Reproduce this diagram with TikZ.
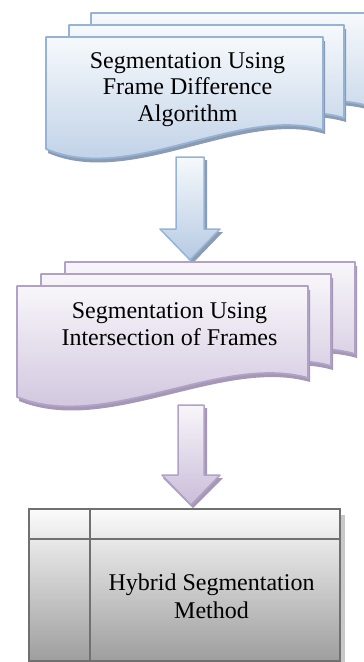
\documentclass[tikz,border=0pt]{standalone}
\usepackage{fontspec}
\setmainfont{Liberation Serif}
\definecolor{bluebd}{HTML}{95B3D7}
\definecolor{bluetop}{HTML}{F6F9FC}
\definecolor{bluebot}{HTML}{B6CAE3}
\definecolor{blueshd}{HTML}{8D9BB0}
\definecolor{purbd}{HTML}{B2A1C7}
\definecolor{purtop}{HTML}{F8F6FA}
\definecolor{purbot}{HTML}{CABDD9}
\definecolor{purshd}{HTML}{A498B4}
\definecolor{graybd}{HTML}{707070}
\definecolor{graytop}{HTML}{FBFBFB}
\definecolor{graybot}{HTML}{9E9E9E}
\definecolor{grayshd}{HTML}{C8C8C8}
\newcommand\mydocshape[5]{%
  \path[#1] (#2,#3) -- (#2+#4,#3) -- (#2+#4,#3+#5-19)
    .. controls (#2+0.70*#4,#3+#5-44) and (#2+0.303*#4,#3+#5+36) .. (#2,#3+#5) -- cycle;}
\tikzset{
  bluedoc/.style={draw=bluebd, line width=1.8pt, line join=round, top color=bluetop, bottom color=bluebot},
  bluesh/.style={fill=blueshd},
  purdoc/.style={draw=purbd, line width=1.8pt, line join=round, top color=purtop, bottom color=purbot},
  pursh/.style={fill=purshd},
  lbl/.style={font=\fontsize{24}{27}\selectfont, inner sep=0pt, anchor=base, text=black},
}
\begin{document}
\begin{tikzpicture}[x=1pt,y=-1pt]
\useasboundingbox (0,0) rectangle (364,662);
\clip (0,0) rectangle (364,662);
\fill[white] (0,0) rectangle (364,662);
% ---- blue multi-document
\mydocshape{bluesh}{93}{17}{277}{112}
\mydocshape{bluedoc}{91}{13}{277}{112}
\mydocshape{bluesh}{71}{29}{275}{112}
\mydocshape{bluedoc}{69}{25}{275}{112}
\mydocshape{bluesh}{48}{41}{277}{112}
\mydocshape{bluedoc}{46}{37}{277}{112}
\node[lbl] (t1a) at (187.5,68) {Segmentation Using};
\node[lbl] (t1b) at (187.5,94.5) {Frame Difference};
\node[lbl] (t1c) at (187.5,121) {Algorithm};
% ---- blue block arrow
\fill[blueshd] (179,160) -- (207,160) -- (207,232) -- (223,232) -- (193,263) -- (163,232) -- (179,232) -- cycle;
\path[draw=bluebd, line width=1.5pt, line join=round, top color=bluetop, bottom color=bluebot]
  (176,157) -- (204,157) -- (204,229) -- (220,229) -- (190,260) -- (160,229) -- (176,229) -- cycle;
% ---- purple multi-document
\mydocshape{pursh}{67}{266}{290}{111}
\mydocshape{purdoc}{65}{262}{290}{111}
\mydocshape{pursh}{43}{278}{290}{111}
\mydocshape{purdoc}{41}{274}{290}{111}
\mydocshape{pursh}{19}{290}{291}{111}
\mydocshape{purdoc}{17}{286}{291}{111}
\node[lbl] (t2a) at (169.5,318) {Segmentation Using};
\node[lbl] (t2b) at (169.5,345) {Intersection of Frames};
% ---- purple block arrow
\fill[purshd] (181,408) -- (207,408) -- (207,478) -- (223,478) -- (193,508) -- (163,478) -- (181,478) -- cycle;
\path[draw=purbd, line width=1.5pt, line join=round, top color=purtop, bottom color=purbot]
  (178,405) -- (204,405) -- (204,475) -- (220,475) -- (191,505) -- (162,475) -- (178,475) -- cycle;
% ---- gray table box
\fill[grayshd] (340,515) rectangle (345,662);
\path[draw=graybd, line width=2.4pt, top color=graytop, bottom color=graybot] (29,509) rectangle (340,661);
\draw[graybd, line width=2.4pt] (29,539) -- (340,539);
\draw[graybd, line width=2.4pt] (90,509) -- (90,661);
\node[lbl] (t3a) at (211.5,590) {Hybrid Segmentation};
\node[lbl] (t3b) at (211.5,618) {Method};
\end{tikzpicture}
\end{document}
